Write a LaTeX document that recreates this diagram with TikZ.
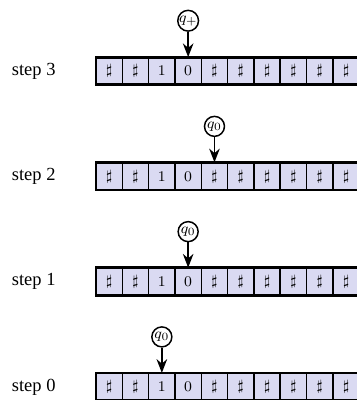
\documentclass[tikz,border=0pt]{standalone}
\usepackage{fontspec}
\setmainfont{Liberation Serif}
\usetikzlibrary{arrows.meta,positioning}
\definecolor{tapefill}{RGB}{218,218,242}
\tikzset{
  cellbox/.style={draw, line width=0.85pt, fill=tapefill, minimum width=0.5cm,
                  minimum height=0.5cm, inner sep=0pt, font=\footnotesize},
  headbox/.style={draw, circle, line width=0.8pt, minimum size=0.38cm,
                  inner sep=0pt, font=\footnotesize},
  headarrow/.style={-{Stealth[length=2.6mm,width=2mm]}, line width=1pt}
}
\begin{document}
\begin{tikzpicture}
  \useasboundingbox (0,0) rectangle (6.77,7.6);
  % one tape per step, head position and state
  \foreach \s/\h/\q in {0/2/0,1/3/0,2/4/0,3/3/+} {
    \foreach \c [count=\i from 0] in {\sharp,\sharp,1,0,\sharp,\sharp,\sharp,\sharp,\sharp,\sharp} {
      \node[cellbox] (c\s-\i) at (2.075+0.5*\i, 0.25+2*\s) {$\c$};
    }
    \draw[line width=1.3pt] (c\s-0.north west) -- (c\s-9.north east);
    \draw[line width=1.3pt] (c\s-0.south west) -- (c\s-9.south east);
    \node (l\s) at (0.64, 0.25+2*\s) {step \s};
    \node[headbox, above=0.48cm of c\s-\h] (h\s) {$q_{\q}$};
    \draw[headarrow] (h\s) -- (c\s-\h.north);
  }
\end{tikzpicture}
\end{document}
